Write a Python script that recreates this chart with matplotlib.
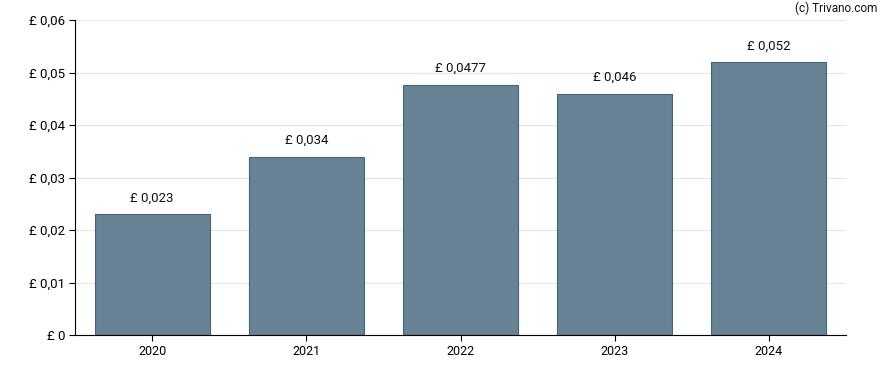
import matplotlib
matplotlib.use("Agg")
import matplotlib.pyplot as plt

years = ["2020", "2021", "2022", "2023", "2024"]
dividends = [0.023, 0.034, 0.0477, 0.046, 0.052]
labels = ["£ 0,023", "£ 0,034", "£ 0,0477", "£ 0,046", "£ 0,052"]
yticks = [0, 0.01, 0.02, 0.03, 0.04, 0.05, 0.06]
ytick_labels = ["£ 0", "£ 0,01", "£ 0,02", "£ 0,03", "£ 0,04", "£ 0,05", "£ 0,06"]

plt.rcParams["font.family"] = ["Roboto", "DejaVu Sans"]

fig = plt.figure(figsize=(8.88, 3.70), dpi=100)
ax = fig.add_axes([75 / 888, 35 / 370, 771 / 888, 315 / 370])

x = range(len(years))
bars = ax.bar(x, dividends, width=0.745, color="#678394", edgecolor="#46637a", linewidth=0.8, zorder=2)

for b, lab in zip(bars, labels):
    ax.annotate(lab, (b.get_x() + b.get_width() / 2, b.get_height()),
                xytext=(0, 7), textcoords="offset points",
                ha="center", va="bottom", fontsize=9.5, color="#111111")

ax.set_xlim(-0.5, 4.5)
ax.set_ylim(0, 0.06)
ax.set_xticks(list(x))
ax.set_xticklabels(years, fontsize=9)
ax.set_yticks(yticks)
ax.set_yticklabels(ytick_labels, fontsize=9.5)
ax.grid(axis="y", color="#e6e6e6", linewidth=0.8, zorder=0)
ax.spines["top"].set_visible(False)
ax.spines["right"].set_visible(False)
ax.spines["left"].set_color("black")
ax.spines["bottom"].set_color("black")
ax.tick_params(axis="both", length=4, width=0.8, colors="black", pad=3)

fig.text(877 / 888, 1 - 8 / 370, "(c) Trivano.com", ha="right", va="center", fontsize=8.5, color="#111111")

fig.savefig("out.png", dpi=100)
